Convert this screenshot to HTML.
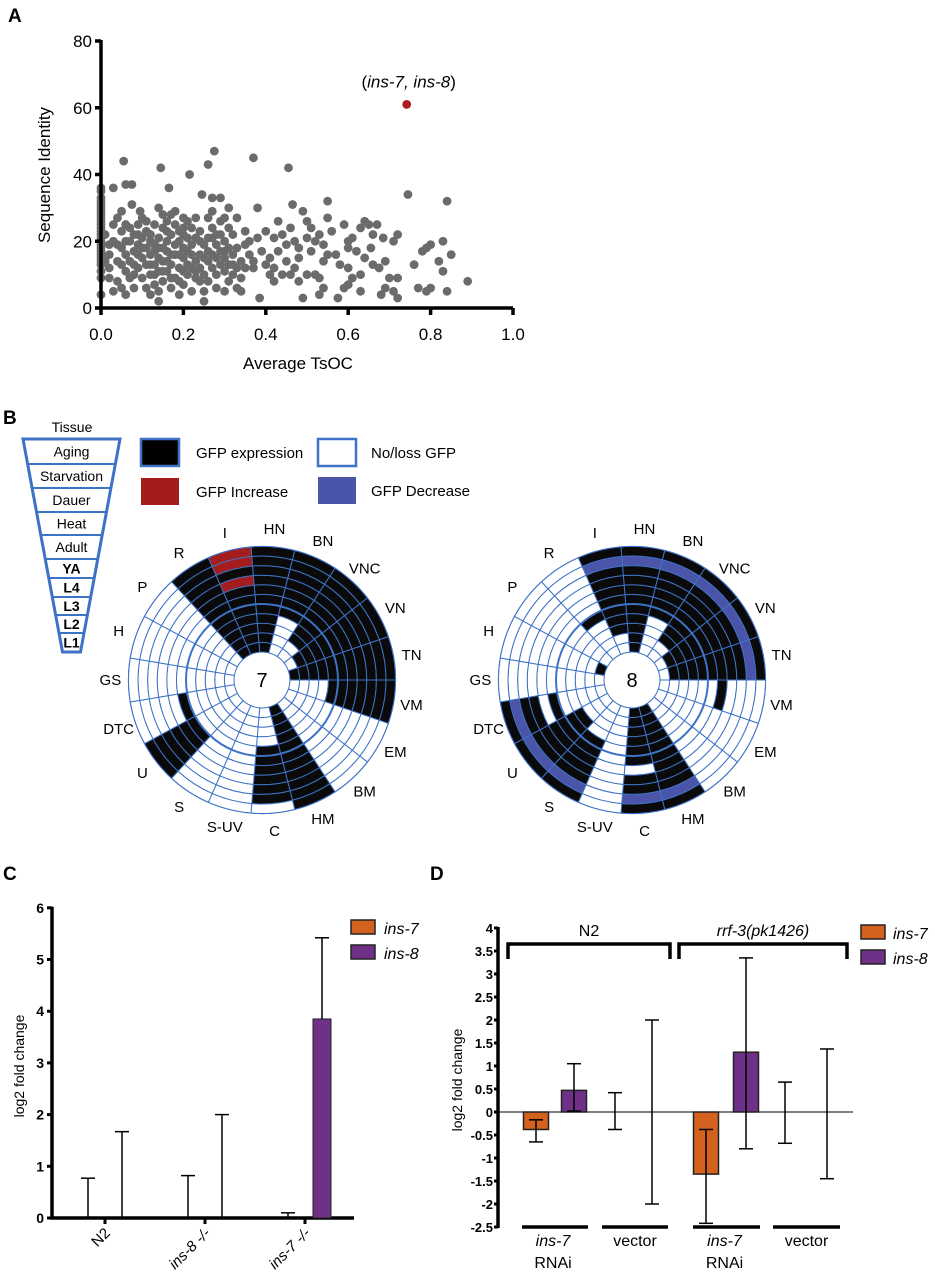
<!DOCTYPE html>
<html><head><meta charset="utf-8"><style>
body{margin:0;background:#fff;}
svg{display:block;font-family:"Liberation Sans",Arial,sans-serif;}
</style></head><body>
<svg id="fig" width="935" height="1280" viewBox="0 0 935 1280" xmlns="http://www.w3.org/2000/svg">
<text x="8" y="22" font-size="19" font-weight="bold">A</text>
<text x="3" y="424" font-size="19" font-weight="bold">B</text>
<text x="3" y="880" font-size="19" font-weight="bold">C</text>
<text x="430" y="880" font-size="19" font-weight="bold">D</text>
<g id="pa"></g>
<g id="pb"></g>
<g id="pc"></g>
<g id="pd"></g>
</svg>
<script>
// ---------- Panel A data ----------
const scatterPoints = [
[0,4],[0,9],[0,11],[0,13],[0,14],[0,15],[0,16],[0,17],[0,18],[0,19],[0,20],[0,21],[0,22],[0,23],[0,24],[0,25],[0,26],[0,27],[0,28],[0,29],[0,30],[0,31],[0,32],[0,33],[0,35],[0,36],
[0.055,44],[0.06,37],[0.075,37],[0.03,36],[0.145,42],[0.165,36],[0.215,40],[0.26,43],[0.275,47],[0.37,45],[0.455,42],[0.245,34],[0.27,33],[0.29,33],[0.095,29],[0.075,31],[0.2,27],[0.31,30],[0.38,30],[0.465,31],[0.55,32],[0.745,34],[0.84,32],
[0.49,29],[0.5,26],[0.55,27],[0.56,23],[0.59,25],[0.61,21],[0.64,26],[0.65,25],[0.67,25],[0.685,21],[0.72,22],[0.71,20],[0.6,20],[0.62,17],[0.58,13],[0.6,12],[0.64,15],[0.66,13],[0.69,14],[0.675,12],[0.7,9],[0.72,9],[0.69,6],[0.71,5],[0.72,3],[0.68,4],[0.63,5],[0.6,7],[0.59,6],[0.575,3],[0.53,4],[0.54,6],[0.49,3],[0.48,8],[0.5,10],[0.52,10],[0.53,9],[0.54,14],[0.55,16],[0.52,20],[0.53,22],[0.54,19],[0.51,17],[0.48,15],[0.47,12],[0.46,10],[0.44,10],[0.42,8],[0.4,13],[0.41,15],[0.43,17],[0.45,14],[0.44,22],[0.42,21],[0.4,23],[0.385,3],[0.38,21],[0.36,16],[0.35,12],[0.34,5],[0.35,19],[0.35,23],[0.33,27],
[0.76,13],[0.77,6],[0.79,5],[0.8,6],[0.78,17],[0.79,18],[0.8,19],[0.82,14],[0.83,11],[0.83,20],[0.85,16],[0.84,5],[0.89,8],[0.63,10],[0.61,9],[0.655,18],[0.6,18],[0.57,16],[0.66,22],[0.63,24],[0.46,24],[0.45,19],[0.47,20],[0.48,18],[0.5,21],[0.51,24],[0.43,26],[0.42,12],[0.39,17],[0.37,14],[0.41,10],
[0.01,22],[0.02,16],[0.02,12],[0.03,25],[0.03,20],[0.04,27],[0.04,8],[0.04,14],[0.05,6],[0.05,18],[0.05,23],[0.06,4],[0.06,11],[0.06,16],[0.06,25],[0.07,20],[0.07,9],[0.07,14],[0.08,17],[0.08,22],[0.08,6],[0.09,12],[0.09,19],[0.09,25],[0.10,15],[0.10,9],[0.10,21],[0.11,6],[0.11,13],[0.11,18],[0.11,26],[0.12,10],[0.12,16],[0.12,22],[0.13,7],[0.13,13],[0.13,19],[0.13,25],[0.14,2],[0.14,5],[0.14,11],[0.14,15],[0.14,21],[0.14,30],[0.15,8],[0.15,14],[0.15,18],[0.15,24],[0.16,11],[0.16,17],[0.16,20],[0.16,26],[0.17,6],[0.17,13],[0.17,22],[0.17,28],[0.18,9],[0.18,16],[0.18,19],[0.18,25],[0.19,12],[0.19,20],[0.19,23],[0.20,7],[0.20,15],[0.20,18],[0.20,22],[0.21,10],[0.21,13],[0.21,17],[0.21,26],[0.22,5],[0.22,19],[0.22,24],[0.23,9],[0.23,14],[0.23,21],[0.24,12],[0.24,16],[0.24,23],[0.25,2],[0.25,5],[0.25,10],[0.25,19],[0.26,8],[0.26,14],[0.26,17],[0.26,27],[0.27,12],[0.27,21],[0.27,24],[0.28,6],[0.28,10],[0.28,15],[0.28,19],[0.29,13],[0.29,17],[0.29,22],[0.29,26],[0.30,5],[0.30,11],[0.30,15],[0.30,20],[0.31,8],[0.31,13],[0.31,18],[0.32,10],[0.32,16],[0.32,22],[0.33,12],[0.33,18],[0.34,14],[0.34,9],[0.36,20],[0.37,12],[0.02,9],[0.03,5],[0.01,14],[0.12,4],[0.19,4],[0.08,13],[0.1,27],[0.15,28],[0.18,29],[0.23,27],[0.27,29],[0.05,29],[0.13,17],[0.17,9],[0.22,12],[0.26,21],[0.31,24],[0.09,16],[0.16,14],[0.2,11],[0.24,8],[0.11,23],[0.21,21],[0.07,24],[0.04,19],[0.19,16],[0.15,11],[0.25,15],[0.28,22],[0.33,6],[0.3,27],
[0.02,19],[0.05,13],[0.08,10],[0.1,18],[0.12,13],[0.14,18],[0.17,16],[0.19,8],[0.22,16],[0.24,20],[0.27,16],[0.3,17],[0.32,13],[0.13,10],[0.16,23],[0.2,24],[0.23,11],[0.09,22],[0.06,20],[0.12,20]
];
const highlightPoint = [0.742, 61];
const aXTicks = [0,0.2,0.4,0.6,0.8,1.0];
const aXTickLabels = ["0.0","0.2","0.4","0.6","0.8","1.0"];
const aYTicks = [0,20,40,60,80];

// ---------- Panel B data ----------
const sectors = ["HN","BN","VNC","VN","TN","VM","EM","BM","HM","C","S-UV","S","U","DTC","GS","H","P","R","I"];
const stages = ["Tissue","Aging","Starvation","Dauer","Heat","Adult","YA","L4","L3","L2","L1"];
// each string: ring 0 (L1, inner) .. ring 10 (Tissue, outer); k=expr, w=none, r=increase, b=decrease
const ins7Pattern = ["kkkkkkkkkkk","wwwwkkkkkkk","wwkkkkkkkkk","wkkkkkkkkkk","kkkkkkkkkkk","wwwwkkkkkkk","wwwwwwwwwww","wwwwwwwwwww","kkkkkkkkkkk","wwwwkkkkkkw","wwwwwwwwwww","wwwwwwwwwww","wwwwwkkkkkk","wwwwwkwwwww","wwwwwwwwwww","wwwwwwwwwww","wwwwwwwwwww","kkkkkkkkkkk","kkkkkkkrkrr"];
const ins8Pattern = ["kkkkkkkkkbk","wwwwkkkkkbk","wwkkkkkkkbk","wkkkkkkkkbk","wkkkkkkkkbk","wwwwwwkwwww","wwwwwwwwwww","wwwwwwwwwww","kkkkkkkkkbk","kkkkkkwkkbk","wwwwwwwwwww","wwwwkkkkkbk","wwwkkkkkkbk","wwwwwkwkkbk","wwwwwwwwwww","kwwwwwwwwww","wwwwwwwwwww","wwwwkwwwwww","wwkkkkkkkbk"];

// ---------- Panel C data ----------
const cCategories = ["N2","ins-8 -/-","ins-7 -/-"];
const cIns7 = [0,0,0];
const cIns7Err = [0.77,0.82,0.1];
const cIns8 = [0,0,3.85];
const cIns8Err = [1.67,2.0,5.42];
const cYTicks = [0,1,2,3,4,5,6];

// ---------- Panel D data ----------
const dGroups = ["N2 ins-7 RNAi","N2 vector","rrf-3 ins-7 RNAi","rrf-3 vector"];
const dIns7 = [-0.38,0,-1.35,0];
const dIns7Hi = [-0.17,0.42,-0.38,0.65];
const dIns7Lo = [-0.65,-0.38,-2.42,-0.68];
const dIns8 = [0.47,0,1.3,0];
const dIns8Hi = [1.05,2.0,3.35,1.37];
const dIns8Lo = [0.02,-2.0,-0.8,-1.45];
const dShowBar = [true,false,true,false];
const dYTicks = [4,3.5,3,2.5,2,1.5,1,0.5,0,-0.5,-1,-1.5,-2,-2.5];
const dYTickLabels = ["4","3.5","3","2.5","2","1.5","1","0.5","0","-0.5","-1","-1.5","-2","-2.5"];

const NS="http://www.w3.org/2000/svg";
function mk(parent,tag,attrs,text){const e=document.createElementNS(NS,tag);for(const k in attrs)e.setAttribute(k,attrs[k]);if(text!==undefined)e.textContent=text;parent.appendChild(e);return e;}

// ===== Panel A =====
(function(){
const g=document.getElementById('pa');
const xs=v=>101+v*412, ys=v=>308-v*(267/80);
scatterPoints.forEach(p=>{
 const c=mk(g,'circle',{cx:xs(p[0]),cy:ys(p[1]),r:4.4,fill:'#6b6b6b'});
 
 
});
const hp=mk(g,'circle',{cx:xs(highlightPoint[0]),cy:ys(highlightPoint[1]),r:4.4,fill:'#b01c1c'});


const an=mk(g,'text',{x:xs(highlightPoint[0])+2,y:ys(highlightPoint[1])-17,'font-size':17,'text-anchor':'middle'});


an.innerHTML='(<tspan font-style="italic">ins-7, ins-8</tspan>)';
const ax=mk(g,'path',{d:`M${xs(0)} ${ys(80)-1}V${ys(0)}H${xs(1)}`,stroke:'#000','stroke-width':3.5,fill:'none'});


aXTicks.forEach((t,i)=>{
 mk(g,'line',{x1:xs(t),x2:xs(t),y1:ys(0),y2:ys(0)+7,stroke:'#000','stroke-width':3.5});
 const l=mk(g,'text',{x:xs(t),y:ys(0)+32,'font-size':17,'text-anchor':'middle'},aXTickLabels[i]);
 
 
});
aYTicks.forEach(t=>{
 mk(g,'line',{x1:xs(0)-6,x2:xs(0),y1:ys(t),y2:ys(t),stroke:'#000','stroke-width':3.5});
 const l=mk(g,'text',{x:xs(0)-9,y:ys(t)+6,'font-size':17,'text-anchor':'end'},String(t));
 
 
});
const xt=mk(g,'text',{x:298,y:369,'font-size':17,'text-anchor':'middle'},'Average TsOC');


const yt=mk(g,'text',{x:0,y:0,'font-size':17,'text-anchor':'middle',transform:'translate(50,175) rotate(-90)'},'Sequence Identity');


})();

// ===== Panel B =====
(function(){
const g=document.getElementById('pb');
const blue='#3e72c6';
const rowsY=[439,464,488,512,535,559,578,597,615,633,652];
const tt=mk(g,'text',{x:72,y:432,'font-size':14,'text-anchor':'middle'},'Tissue');


const halfW=y=>48.5-(y-439)*(39.5/213);
const fn=mk(g,'path',{d:`M${71.5-48.5} 439H${71.5+48.5}L${71.5+9} 652H${71.5-9}Z`,fill:'#fff',stroke:blue,'stroke-width':3});


for(let i=1;i<rowsY.length-1;i++){const y=rowsY[i];mk(g,'line',{x1:71.5-halfW(y),x2:71.5+halfW(y),y1:y,y2:y,stroke:blue,'stroke-width':2});}
stages.slice(1).forEach((s,i)=>{
 const y=(rowsY[i]+rowsY[i+1])/2;
 const small=i>=5;
 const t=mk(g,'text',{x:71.5,y:y+5,'font-size':14,'font-weight':small?'bold':'normal','text-anchor':'middle'},s);
 
 
});
const leg=[[140,438,'#000','GFP expression',196,true],[140,477,'#a51c1c','GFP Increase',196,false],[317,438,'#fff','No/loss GFP',371,true],[317,476,'#4a54a8','GFP Decrease',371,false]];
leg.forEach(l=>{
 const r=mk(g,'rect',{x:l[0]+1,y:l[1]+1,width:38,height:27,fill:l[2],stroke:l[5]?blue:'none','stroke-width':2.5});
 
 
 const t=mk(g,'text',{x:l[4],y:l[1]+20,'font-size':15},l[3]);
 
 
});
const colors={k:'#0a0a0a',w:'#fff',r:'#a51c1c',b:'#4a54a8'};
function wheel(cx,cy,pattern,label,name){
 const wg=mk(g,'g',{});
 
 
 const n=sectors.length, step=360/n, r0=28, dr=9.6, start=90-5*step;
 const pt=(a,r)=>{const rad=a*Math.PI/180;return [cx+r*Math.sin(rad),cy-r*Math.cos(rad)];};
 pattern.forEach((str,s)=>{
  const a0=start+s*step,a1=a0+step;
  for(let ring=0;ring<str.length;ring++){
   const ri=r0+ring*dr, ro=ri+dr;
   const p1=pt(a0,ri),p2=pt(a0,ro),p3=pt(a1,ro),p4=pt(a1,ri);
   const c=mk(wg,'path',{d:`M${p1}L${p2}A${ro} ${ro} 0 0 1 ${p3}L${p4}A${ri} ${ri} 0 0 0 ${p1}Z`,fill:colors[str[ring]],stroke:blue,'stroke-width':1});
   
   
  }
  const la=pt(a0+step/2,r0+11*dr+18);
  const t=mk(wg,'text',{x:la[0],y:la[1]+5,'font-size':15,'text-anchor':'middle'},sectors[s]);
  
  
 });
 mk(wg,'circle',{cx,cy,r:r0+5*dr,fill:'none',stroke:blue,'stroke-width':2});
 mk(wg,'circle',{cx,cy,r:r0+11*dr,fill:'none',stroke:blue,'stroke-width':1});
 const ct=mk(wg,'text',{x:cx,y:cy+7,'font-size':20,'text-anchor':'middle'},label);
 
 
}
wheel(262,680,ins7Pattern,'7','ins7-wheel');
wheel(632,680,ins8Pattern,'8','ins8-wheel');
})();

// ===== Panel C =====
(function(){
const g=document.getElementById('pc');
const y0=1218, ppu=51.7, ys=v=>y0-v*ppu;
const centers=[105,205,305], off=17, bw=18;
const ax=mk(g,'path',{d:`M52 ${ys(6)-1}V${y0}H354`,stroke:'#000','stroke-width':3.5,fill:'none'});


cYTicks.forEach(t=>{
 mk(g,'line',{x1:47,x2:52,y1:ys(t),y2:ys(t),stroke:'#000','stroke-width':3});
 const l=mk(g,'text',{x:44,y:ys(t)+5,'font-size':14,'font-weight':'bold','text-anchor':'end'},String(t));
 
 
});
function errbar(x,base,top){mk(g,'line',{x1:x,x2:x,y1:ys(base),y2:ys(top),stroke:'#000','stroke-width':1.5});mk(g,'line',{x1:x-7,x2:x+7,y1:ys(top),y2:ys(top),stroke:'#000','stroke-width':1.5});}
cCategories.forEach((c,i)=>{
 const x7=centers[i]-off, x8=centers[i]+off;
 if(cIns7[i]>0){const b=mk(g,'rect',{x:x7-bw/2,y:ys(cIns7[i]),width:bw,height:cIns7[i]*ppu,fill:'#d2621e',stroke:'#222'});}
 errbar(x7,cIns7[i],cIns7Err[i]);
 if(cIns8[i]>0){const b=mk(g,'rect',{x:x8-bw/2,y:ys(cIns8[i]),width:bw,height:cIns8[i]*ppu,fill:'#6f3188',stroke:'#222'});}
 errbar(x8,cIns8[i],cIns8Err[i]);
 mk(g,'line',{x1:centers[i],x2:centers[i],y1:y0,y2:y0+6,stroke:'#000','stroke-width':3});
 const l=mk(g,'text',{x:0,y:0,'font-size':15,'text-anchor':'end','font-style':i>0?'italic':'normal',transform:`translate(${centers[i]+6},${y0+16}) rotate(-45)`},c);
 
 
});
const yt=mk(g,'text',{x:0,y:0,'font-size':14,'text-anchor':'middle',transform:'translate(24,1066) rotate(-90)'},'log2 fold change');


[[920,'#d2621e','ins-7'],[945,'#6f3188','ins-8']].forEach(l=>{
 const r=mk(g,'rect',{x:351,y:l[0],width:24,height:14,fill:l[1],stroke:'#222','stroke-width':1.5});
 
 const t=mk(g,'text',{x:384,y:l[0]+14,'font-size':16,'font-style':'italic'},l[2]);
 
});
})();

// ===== Panel D =====
(function(){
const g=document.getElementById('pd');
const y0=1112, ppu=46, ys=v=>y0-v*ppu;
const x7s=[536,615,706,785], x8s=[574,652,746,827], bw=25;
const ax=mk(g,'line',{x1:498,x2:498,y1:ys(4)-1,y2:ys(-2.5)+1,stroke:'#000','stroke-width':3.5});

const zl=mk(g,'line',{x1:498,x2:853,y1:y0,y2:y0,stroke:'#000','stroke-width':1});

dYTicks.forEach((t,i)=>{
 mk(g,'line',{x1:494,x2:498,y1:ys(t),y2:ys(t),stroke:'#000','stroke-width':3});
 const l=mk(g,'text',{x:493,y:ys(t)+5,'font-size':13,'font-weight':'bold','text-anchor':'end'},dYTickLabels[i]);
 
});
function errbar(x,lo,hi){mk(g,'line',{x1:x,x2:x,y1:ys(lo),y2:ys(hi),stroke:'#000','stroke-width':1.5});[lo,hi].forEach(v=>mk(g,'line',{x1:x-7,x2:x+7,y1:ys(v),y2:ys(v),stroke:'#000','stroke-width':1.5}));}
dGroups.forEach((grp,i)=>{
 if(dShowBar[i]){
  const b7=mk(g,'rect',{x:x7s[i]-bw/2,y:Math.min(ys(0),ys(dIns7[i])),width:bw,height:Math.abs(dIns7[i])*ppu,fill:'#d2621e',stroke:'#222','stroke-width':1.5});
  
  const b8=mk(g,'rect',{x:x8s[i]-bw/2,y:Math.min(ys(0),ys(dIns8[i])),width:bw,height:Math.abs(dIns8[i])*ppu,fill:'#6f3188',stroke:'#222','stroke-width':1.5});
  
 }
 errbar(x7s[i],dIns7Lo[i],dIns7Hi[i]);
 errbar(x8s[i],dIns8Lo[i],dIns8Hi[i]);
});
[[508,670,'N2',false],[679,847,'rrf-3(pk1426)',true]].forEach(b=>{
 const p=mk(g,'path',{d:`M${b[0]} 959V944H${b[1]}V959`,stroke:'#000','stroke-width':3.5,fill:'none'});
 
 const t=mk(g,'text',{x:(b[0]+b[1])/2,y:936,'font-size':16,'text-anchor':'middle','font-style':b[3]?'italic':'normal'},b[2]);
 
});
[[522,588,true],[602,668,false],[693,760,true],[773,840,false]].forEach(b=>{
 mk(g,'line',{x1:b[0],x2:b[1],y1:1227,y2:1227,stroke:'#000','stroke-width':3.5});
 const cx=(b[0]+b[1])/2;
 if(b[2]){
  const t=mk(g,'text',{x:cx-2,y:1246,'font-size':16,'font-style':'italic','text-anchor':'middle'},'ins-7');
  
  const t2=mk(g,'text',{x:cx-2,y:1268,'font-size':16,'text-anchor':'middle'},'RNAi');
  
 } else {
  const t=mk(g,'text',{x:cx,y:1246,'font-size':16,'text-anchor':'middle'},'vector');
  
 }
});
const yt=mk(g,'text',{x:0,y:0,'font-size':14,'text-anchor':'middle',transform:'translate(462,1080) rotate(-90)'},'log2 fold change');

[[925,'#d2621e','ins-7'],[950,'#6f3188','ins-8']].forEach(l=>{
 const r=mk(g,'rect',{x:861,y:l[0],width:24,height:14,fill:l[1],stroke:'#222','stroke-width':1.5});
 
 const t=mk(g,'text',{x:893,y:l[0]+14,'font-size':16,'font-style':'italic'},l[2]);
 
});
})();
</script>
</body></html>
